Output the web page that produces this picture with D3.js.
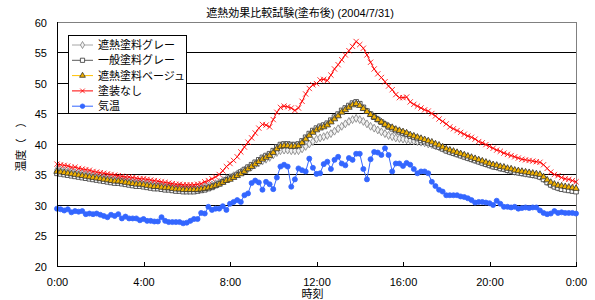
<!DOCTYPE html>
<html>
<head>
<meta charset="utf-8">
<script src="https://cdn.jsdelivr.net/npm/d3@7"></script>
<style>
body { margin: 0; background: #fff; }
text { font-family: "Liberation Sans", Arial, "Noto Sans CJK JP", sans-serif; font-size: 11px; fill: #000; }
</style>
</head>
<body>
<svg width="595" height="300"></svg>
<script>
// 10 minute readings, 0:00 .. 24:00
var minutes = d3.range(0, 1441, 10);
var yTicks = [20, 25, 30, 35, 40, 45, 50, 55, 60];
var xTicks = [0, 240, 480, 720, 960, 1200, 1440];
var xTickLabels = ["0:00", "4:00", "8:00", "12:00", "16:00", "20:00", "0:00"];

var seriesNames = ["遮熱塗料グレー", "一般塗料グレー", "遮熱塗料ベージュ", "塗装なし", "気温"];

var shanetsuGray = [
  35.8, 35.7, 35.6, 35.5, 35.4, 35.3,
  35.2, 35.1, 35.0, 34.9, 34.8, 34.7,
  34.6, 34.5, 34.4, 34.3, 34.2, 34.2,
  34.1, 34.0, 33.9, 33.8, 33.7, 33.7,
  33.6, 33.5, 33.4, 33.3, 33.3, 33.2,
  33.1, 33.1, 33.0, 32.9, 32.9, 32.8,
  32.8, 32.8, 32.8, 32.8, 32.9, 33.0,
  33.1, 33.3, 33.5, 33.7, 34.0, 34.3,
  34.5, 34.8, 35.1, 35.4, 35.7, 36.0,
  36.3, 36.6, 36.9, 37.2, 37.5, 37.8,
  38.2, 38.6, 38.9, 39.0, 39.0, 38.9,
  38.9, 38.9, 39.2, 39.6, 40.0, 40.4,
  40.8, 41.0, 41.2, 41.4, 41.7, 42.1,
  42.5, 42.9, 43.3, 43.7, 44.0, 44.2,
  44.0, 43.7, 43.3, 42.9, 42.6, 42.3,
  42.0, 41.7, 41.4, 41.2, 41.0, 40.9,
  40.8, 40.7, 40.6, 40.5, 40.4, 40.3,
  40.2, 40.0, 39.9, 39.7, 39.5, 39.3,
  39.0, 38.8, 38.6, 38.4, 38.2, 38.0,
  37.8, 37.6, 37.4, 37.2, 37.0, 36.8,
  36.6, 36.4, 36.3, 36.1, 36.0, 35.8,
  35.7, 35.5, 35.4, 35.3, 35.2, 35.1,
  35.0, 34.9, 34.7, 34.3, 33.8, 33.4,
  33.1, 32.9, 32.8, 32.7, 32.6, 32.5,
  32.5
];

var ippanGray = [
  35.2, 35.1, 35.0, 34.9, 34.8, 34.7,
  34.6, 34.5, 34.4, 34.3, 34.2, 34.1,
  34.0, 33.9, 33.8, 33.7, 33.6, 33.6,
  33.5, 33.4, 33.3, 33.2, 33.1, 33.1,
  33.0, 32.9, 32.8, 32.7, 32.7, 32.6,
  32.5, 32.5, 32.4, 32.3, 32.3, 32.2,
  32.2, 32.2, 32.2, 32.3, 32.4, 32.5,
  32.7, 32.9, 33.2, 33.5, 33.8, 34.1,
  34.4, 34.7, 35.0, 35.4, 35.8, 36.2,
  36.6, 37.0, 37.4, 37.8, 38.1, 38.4,
  38.9, 39.5, 39.9, 40.0, 40.0, 39.9,
  39.9, 40.0, 40.5, 41.1, 41.7, 42.2,
  42.6, 42.9, 43.1, 43.4, 43.9, 44.4,
  44.9, 45.5, 45.9, 46.3, 46.7, 46.9,
  46.6, 46.0, 45.4, 44.9, 44.4, 44.0,
  43.6, 43.2, 42.8, 42.5, 42.2, 42.0,
  41.8, 41.6, 41.3, 41.1, 40.9, 40.6,
  40.4, 40.2, 40.0, 39.7, 39.5, 39.2,
  38.9, 38.7, 38.5, 38.3, 38.1, 37.9,
  37.7, 37.5, 37.3, 37.1, 36.9, 36.7,
  36.5, 36.3, 36.2, 36.0, 35.9, 35.7,
  35.6, 35.4, 35.3, 35.2, 35.1, 35.0,
  34.9, 34.8, 34.6, 34.2, 33.7, 33.3,
  33.0, 32.8, 32.6, 32.5, 32.4, 32.3,
  32.2
];

var shanetsuBeige = [
  35.5, 35.4, 35.3, 35.2, 35.1, 35.0,
  34.9, 34.8, 34.7, 34.6, 34.5, 34.4,
  34.3, 34.2, 34.1, 34.0, 33.9, 33.9,
  33.8, 33.7, 33.6, 33.5, 33.4, 33.4,
  33.3, 33.2, 33.1, 33.0, 33.0, 32.9,
  32.8, 32.8, 32.7, 32.6, 32.6, 32.5,
  32.5, 32.5, 32.5, 32.5, 32.6, 32.7,
  32.8, 33.0, 33.2, 33.4, 33.7, 34.0,
  34.2, 34.5, 34.8, 35.1, 35.5, 35.9,
  36.3, 36.7, 37.1, 37.5, 37.8, 38.1,
  38.6, 39.2, 39.6, 39.7, 39.7, 39.6,
  39.6, 39.7, 40.2, 40.8, 41.4, 41.9,
  42.3, 42.6, 42.8, 43.1, 43.6, 44.1,
  44.6, 45.2, 45.6, 46.0, 46.4, 46.6,
  46.3, 45.8, 45.3, 44.8, 44.4, 44.0,
  43.6, 43.2, 42.9, 42.7, 42.4, 42.2,
  42.0, 41.8, 41.5, 41.3, 41.1, 40.9,
  40.7, 40.5, 40.3, 40.0, 39.8, 39.5,
  39.2, 39.0, 38.8, 38.6, 38.4, 38.2,
  38.0, 37.8, 37.6, 37.4, 37.2, 37.0,
  36.8, 36.6, 36.5, 36.3, 36.2, 36.0,
  35.9, 35.7, 35.6, 35.5, 35.4, 35.3,
  35.2, 35.1, 35.0, 34.6, 34.1, 33.7,
  33.4, 33.2, 33.1, 33.0, 32.9, 32.8,
  32.7
];

var tosouNashi = [
  36.7, 36.6, 36.5, 36.4, 36.2, 36.2,
  36.0, 35.9, 35.8, 35.7, 35.5, 35.4,
  35.3, 35.2, 35.1, 35.0, 34.9, 34.8,
  34.7, 34.6, 34.6, 34.5, 34.4, 34.3,
  34.3, 34.2, 34.1, 34.0, 33.9, 33.8,
  33.7, 33.6, 33.5, 33.4, 33.4, 33.3,
  33.3, 33.3, 33.3, 33.4, 33.5, 33.8,
  34.0, 34.3, 34.6, 35.0, 35.6, 36.3,
  36.8, 37.3, 37.9, 38.7, 39.5, 40.3,
  41.0, 41.8, 42.6, 43.2, 43.1, 42.8,
  44.0, 45.2, 46.0, 46.2, 46.1, 45.9,
  45.5, 45.9, 47.0, 48.2, 49.1, 49.7,
  49.9, 50.5, 50.6, 50.4, 51.3, 52.3,
  53.0, 53.8, 54.6, 55.3, 56.0, 56.8,
  56.3, 55.7, 54.6, 53.4, 52.3, 51.5,
  50.9, 50.2, 49.5, 48.9, 48.1, 47.6,
  47.6, 47.7, 46.9, 46.5, 46.2, 45.9,
  45.6, 45.4, 45.0, 44.6, 44.1, 43.7,
  43.3, 42.8, 42.5, 42.2, 41.9, 41.6,
  41.3, 41.1, 40.8, 40.4, 40.2, 39.9,
  39.6, 39.3, 39.0, 38.8, 38.5, 38.3,
  38.1, 37.9, 37.7, 37.5, 37.4, 37.3,
  37.2, 37.1, 37.0, 36.6, 36.0, 35.4,
  35.0, 34.8, 34.5, 34.3, 34.2, 34.0,
  33.8
];

var kion = [
  29.4, 29.3, 29.1, 29.3, 28.8, 29.0,
  28.9, 29.0, 28.5, 28.6, 28.5, 28.6,
  28.4, 28.2, 28.0, 28.4, 28.2, 28.5,
  27.8, 28.1, 27.8, 27.8, 27.8, 27.5,
  27.7, 27.4, 27.4, 27.3, 27.3, 28.0,
  27.4, 27.2, 27.2, 27.2, 27.2, 27.0,
  27.1, 27.4, 27.7, 27.7, 28.7, 28.6,
  29.7, 29.2, 29.4, 29.4, 29.8, 29.2,
  30.2, 30.5, 30.8, 30.5, 31.6, 31.9,
  33.6, 34.0, 33.7, 32.5, 33.8, 33.4,
  32.6, 34.5, 36.3, 36.6, 36.3, 33.0,
  34.2, 36.0, 35.7, 35.5, 37.6, 36.1,
  35.1, 35.2, 36.7, 37.1, 35.9, 37.4,
  37.9, 36.8, 36.5, 37.7, 37.4, 38.4,
  38.4, 35.9, 34.2, 37.5, 38.7, 38.6,
  38.2, 39.3, 38.2, 35.5, 36.8, 36.8,
  36.4, 36.9, 36.6, 35.9, 35.2, 35.5,
  35.5, 35.2, 33.8, 33.1, 32.5, 32.2,
  31.6, 31.6, 31.6, 31.6, 31.4, 31.3,
  31.1, 30.8, 30.4, 30.5, 30.5, 30.4,
  30.3, 30.0, 30.7, 30.2, 29.7, 29.7,
  29.6, 29.7, 29.4, 29.5, 29.6, 29.5,
  29.6, 29.6, 29.1, 28.7, 28.5, 28.6,
  29.0, 28.7, 28.8, 28.7, 28.7, 28.7,
  28.6
];

var svg = d3.select("svg"),
    margin = {top: 22, right: 19, bottom: 34, left: 57},
    width = +svg.attr("width") - margin.left - margin.right,
    height = +svg.attr("height") - margin.top - margin.bottom;

var x = d3.scaleLinear().domain([0, 1440]).range([0, width]),
    y = d3.scaleLinear().domain([20, 60]).range([height, 0]);

var g = svg.append("g")
    .attr("transform", "translate(" + margin.left + "," + margin.top + ")");

// plot frame (top/right grey)
g.append("rect")
    .attr("x", 0).attr("y", 0)
    .attr("width", width).attr("height", height)
    .attr("fill", "#fff")
    .attr("stroke", "#808080")
    .attr("stroke-width", 1)
    .attr("shape-rendering", "crispEdges");

// gridlines
g.append("g")
    .selectAll("line")
    .data(yTicks.filter(function(d) { return d > 20 && d < 60; }))
    .enter().append("line")
      .attr("x1", 0).attr("x2", width)
      .attr("y1", function(d) { return y(d); })
      .attr("y2", function(d) { return y(d); })
      .attr("stroke", "#000")
      .attr("shape-rendering", "crispEdges");

// axes
var yAxis = g.append("g")
    .attr("class", "axis axis--y")
    .call(d3.axisLeft(y).tickValues(yTicks).tickSize(0).tickPadding(10));

var xAxis = g.append("g")
    .attr("class", "axis axis--x")
    .attr("transform", "translate(0," + height + ")")
    .call(d3.axisBottom(x).tickValues(xTicks).tickSizeInner(-4).tickSizeOuter(0).tickPadding(12)
      .tickFormat(function(d, i) { return xTickLabels[i]; }));

svg.selectAll(".axis path, .axis line")
    .attr("stroke", "#000")
    .attr("shape-rendering", "crispEdges");
svg.selectAll(".axis text")
    .attr("fill", "#000")
    .style("font-size", "11px");
yAxis.selectAll("text").attr("dy", "0.4em");

// series
var series = [
  {name: seriesNames[0], values: shanetsuGray, line: "#a6a6a6", symbol: d3.symbolDiamond, size: 18, fill: "#f2f2f2", stroke: "#808080"},
  {name: seriesNames[1], values: ippanGray, line: "#595959", symbol: d3.symbolSquare, size: 22, fill: "#ffffff", stroke: "#333333"},
  {name: seriesNames[2], values: shanetsuBeige, line: "#ffc000", symbol: d3.symbolTriangle, size: 18, fill: "#f0b000", stroke: "#333333"},
  {name: seriesNames[3], values: tosouNashi, line: "#ff0000", symbol: d3.symbolTimes, size: 20, fill: "none", stroke: "#ff0000"},
  {name: seriesNames[4], values: kion, line: "#3366ff", symbol: d3.symbolCircle, size: 20, fill: "#3366ff", stroke: "#3366ff"}
];

var line = d3.line()
    .x(function(d, i) { return x(minutes[i]); })
    .y(function(d) { return y(d); });

series.forEach(function(s) {
  var sg = g.append("g").attr("class", "series");
  sg.append("path")
      .datum(s.values)
      .attr("fill", "none")
      .attr("stroke", s.line)
      .attr("stroke-width", 1)
      .attr("d", line);
  sg.selectAll(".pt")
    .data(s.values)
    .enter().append("path")
      .attr("class", "pt")
      .attr("transform", function(d, i) { return "translate(" + x(minutes[i]) + "," + y(d) + ")"; })
      .attr("d", d3.symbol().type(s.symbol).size(s.size))
      .attr("fill", s.fill)
      .attr("stroke", s.stroke)
      .attr("stroke-width", 0.8);
});

// redraw left/bottom axis lines on top
g.append("line").attr("x1", 0).attr("x2", 0).attr("y1", 0).attr("y2", height)
    .attr("stroke", "#000").attr("shape-rendering", "crispEdges");
g.append("line").attr("x1", 0).attr("x2", width).attr("y1", height).attr("y2", height)
    .attr("stroke", "#000").attr("shape-rendering", "crispEdges");

// legend
var legend = svg.append("g").attr("transform", "translate(68,35)");
legend.append("rect")
    .attr("x", 0.5).attr("y", 0.5)
    .attr("width", 118).attr("height", 78)
    .attr("fill", "#fff")
    .attr("stroke", "#000");

var item = legend.selectAll(".item")
    .data(series)
    .enter().append("g")
      .attr("class", "item")
      .attr("transform", function(d, i) { return "translate(0," + (10 + i * 15.3) + ")"; });
item.append("line")
    .attr("x1", 4).attr("x2", 25)
    .attr("stroke", function(d) { return d.line; });
item.append("path")
    .attr("transform", "translate(14.5,0)")
    .attr("d", function(d) { return d3.symbol().type(d.symbol).size(d.size * 0.8)(); })
    .attr("fill", function(d) { return d.fill; })
    .attr("stroke", function(d) { return d.stroke; })
    .attr("stroke-width", 0.8);
item.append("text")
    .attr("x", 30)
    .attr("dy", "0.38em")
    .text(function(d) { return d.name; });

// titles
svg.append("text")
    .attr("x", 300).attr("y", 17)
    .attr("text-anchor", "middle")
    .text("遮熱効果比較試験(塗布後)  (2004/7/31)");

svg.append("text")
    .attr("x", margin.left + width / 2 - 4).attr("y", 298)
    .attr("text-anchor", "middle")
    .text("時刻");

svg.append("text")
    .attr("transform", "translate(25," + (margin.top + height / 2) + ") rotate(-90)")
    .attr("text-anchor", "middle")
    .text("温度（　）");
</script>
</body>
</html>
